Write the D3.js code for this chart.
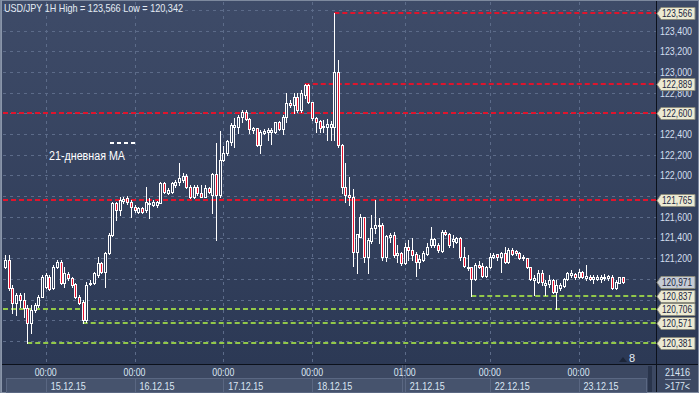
<!DOCTYPE html>
<html>
<head>
<meta charset="utf-8">
<script src="https://cdn.jsdelivr.net/npm/d3@7"></script>
<style>
body { margin: 0; background: #2f3c58; }
svg { display: block; font-family: "Liberation Sans", Arial, sans-serif; }
</style>
</head>
<body>
<svg id="chart" width="699" height="393"></svg>
<script>
// USD/JPY hourly candles, 14.12.15 14:00 .. 23.12.15
const opens = [
  121.119,121.184,120.910,120.765,120.845,120.797,120.717,120.572,120.700,120.749,
  120.829,120.926,121.016,120.910,121.119,121.167,120.958,121.048,121.007,120.952,
  120.829,120.781,120.604,120.952,120.958,121.039,121.152,121.071,121.248,121.425,
  121.732,121.667,121.757,121.780,121.747,121.699,121.651,121.683,121.667,121.725,
  121.715,121.715,121.738,121.925,121.834,121.844,121.909,121.941,121.957,121.996,
  121.892,121.796,121.892,121.828,121.796,121.877,121.812,122.012,121.812,122.150,
  122.215,122.327,122.472,122.472,122.569,122.617,122.544,122.440,122.457,122.295,
  122.414,122.424,122.424,122.424,122.515,122.450,122.569,122.704,122.682,122.756,
  122.634,122.779,122.875,122.708,122.553,122.527,122.466,122.472,122.466,122.466,
  122.998,122.295,121.892,121.812,121.796,121.264,121.409,121.596,121.216,121.370,
  121.490,121.512,121.522,121.210,121.409,121.425,121.232,121.248,121.152,121.313,
  121.280,121.242,121.167,121.184,121.242,121.329,121.329,121.329,121.274,121.457,
  121.435,121.370,121.361,121.393,121.210,121.103,121.113,120.997,121.135,121.126,
  121.032,121.119,121.216,121.239,121.210,121.254,121.167,121.280,121.274,121.254,
  121.200,121.200,121.113,120.990,120.974,121.061,120.942,120.952,120.990,120.877,
  120.910,120.932,120.997,121.039,121.048,121.022,121.071,121.013,121.022,121.003,
  121.003,121.003,121.010,121.010,121.016,120.910,120.964,121.016
];
const highs = [
  121.232,121.232,120.942,120.865,120.865,120.865,120.749,120.749,120.771,120.845,
  121.039,121.055,121.039,121.135,121.184,121.184,121.119,121.071,121.022,120.964,
  120.845,120.797,120.974,120.990,121.071,121.216,121.167,121.264,121.442,121.747,
  121.747,121.790,121.796,121.802,121.764,121.715,121.699,121.693,121.892,121.780,
  121.764,121.757,121.941,121.941,121.877,121.941,121.957,122.118,122.022,122.015,
  121.909,121.909,121.909,121.909,121.909,121.892,122.022,122.312,122.431,122.286,
  122.344,122.505,122.553,122.585,122.634,122.634,122.553,122.472,122.463,122.440,
  122.447,122.457,122.457,122.521,122.527,122.585,122.795,122.730,122.795,122.795,
  122.827,122.889,122.885,122.714,122.569,122.537,122.537,122.544,122.527,123.566,
  123.117,122.302,122.118,121.989,121.870,121.432,121.625,121.596,121.393,121.619,
  121.764,121.587,121.538,121.425,121.442,121.457,121.329,121.264,121.345,121.377,
  121.393,121.264,121.232,121.274,121.345,121.506,121.393,121.345,121.474,121.474,
  121.442,121.425,121.409,121.409,121.313,121.232,121.113,121.158,121.177,121.152,
  121.126,121.248,121.248,121.242,121.264,121.313,121.297,121.297,121.280,121.264,
  121.232,121.200,121.113,121.039,121.087,121.087,120.990,121.039,120.997,120.990,
  120.958,121.007,121.071,121.087,121.055,121.094,121.080,121.135,121.039,121.039,
  121.039,121.039,121.045,121.039,121.039,120.990,121.022,121.022
];
const lows = [
  121.103,120.894,120.668,120.652,120.732,120.636,120.381,120.478,120.684,120.732,
  120.823,120.910,120.894,120.900,121.103,120.952,120.926,120.990,120.926,120.813,
  120.758,120.571,120.587,120.942,120.952,121.022,121.061,120.926,121.242,121.416,
  121.570,121.619,121.732,121.725,121.602,121.651,121.635,121.641,121.651,121.587,
  121.706,121.699,121.732,121.828,121.822,121.834,121.892,121.909,121.941,121.877,
  121.780,121.780,121.812,121.796,121.790,121.834,121.635,121.377,121.796,122.144,
  122.199,122.295,122.279,122.408,122.521,122.537,122.408,122.414,122.286,122.215,
  122.402,122.344,122.305,122.414,122.440,122.402,122.521,122.666,122.602,122.617,
  122.617,122.747,122.698,122.537,122.424,122.424,122.424,122.344,122.344,122.344,
  122.279,121.828,121.747,121.715,121.126,121.055,121.409,121.161,121.061,121.345,
  121.442,121.345,121.184,121.177,121.361,121.216,121.167,121.135,121.145,121.184,
  121.184,121.032,121.103,121.177,121.232,121.313,121.313,121.264,121.264,121.425,
  121.313,121.313,121.351,121.184,121.113,121.087,120.837,120.990,121.103,121.022,
  121.022,121.103,121.200,121.184,121.071,121.152,121.158,121.232,121.232,121.190,
  121.184,121.103,120.990,120.845,120.958,120.942,120.845,120.926,120.861,120.706,
  120.894,120.926,120.990,121.022,120.997,121.007,121.007,120.990,120.990,120.958,
  120.990,120.974,120.990,120.990,120.900,120.900,120.958,120.961
];
const closes = [
  121.184,120.910,120.765,120.845,120.797,120.717,120.572,120.700,120.749,120.829,
  121.022,121.039,120.900,121.119,121.167,120.958,121.055,121.007,120.942,120.829,
  120.771,120.604,120.942,120.964,121.055,121.152,121.071,121.248,121.425,121.732,
  121.667,121.764,121.773,121.747,121.699,121.667,121.683,121.651,121.747,121.738,
  121.747,121.747,121.925,121.844,121.860,121.925,121.941,121.973,121.996,121.892,
  121.796,121.892,121.828,121.796,121.883,121.844,122.012,121.812,122.150,122.221,
  122.334,122.489,122.489,122.569,122.617,122.544,122.450,122.457,122.295,122.424,
  122.431,122.440,122.440,122.515,122.450,122.569,122.698,122.682,122.756,122.634,
  122.801,122.875,122.714,122.553,122.521,122.457,122.482,122.495,122.495,122.998,
  122.295,121.892,121.812,121.796,121.264,121.432,121.596,121.216,121.377,121.490,
  121.522,121.522,121.210,121.416,121.425,121.232,121.248,121.152,121.313,121.280,
  121.232,121.167,121.190,121.248,121.313,121.384,121.384,121.280,121.457,121.435,
  121.329,121.384,121.393,121.210,121.126,121.119,120.997,121.135,121.119,121.032,
  121.119,121.216,121.232,121.210,121.254,121.167,121.280,121.242,121.248,121.200,
  121.210,121.113,120.997,121.007,121.061,120.974,120.964,120.990,120.877,120.942,
  120.942,120.997,121.055,121.061,121.016,121.071,121.022,121.029,120.997,121.016,
  121.016,121.022,121.022,121.029,120.910,120.974,121.016,120.971
];

// time axis: candle index of each labelled hour
const labelIdx = [11, 35, 59, 83, 108, 131, 155];
const hourLabels = ["00:00", "00:00", "00:00", "00:00", "01:00", "00:00", "00:00"];
const dayLabels = ["15.12.15", "16.12.15", "17.12.15", "18.12.15", "21.12.15", "22.12.15", "23.12.15"];

const priceTicks = [123.4, 123.2, 123.0, 122.8, 122.4, 122.2, 122.0, 121.6, 121.4, 121.2];
const gridValues = [120.4, 120.6, 120.8, 121.0, 121.2, 121.4, 121.6, 121.8, 122.0, 122.2, 122.4, 122.6, 122.8, 123.0, 123.2, 123.4, 123.6];

// horizontal levels (start = candle index where the line begins, null = from the left edge)
const redLevels = [123.566, 122.889, 122.600, 121.765];
const redStart = [89, 81, null, null];
const greenLevels = [120.837, 120.706, 120.571, 120.381];
const greenStart = [126, null, 21, 6];
const lastPrice = 120.971;

const title = "USD/JPY 1H High = 123,566 Low = 120,342";
const maLabel = "21-дневная МА";
const volLabel = "21416";
const zoomLabel = ">177<";
const barsLabel = "8";

const W = 699, H = 393;
const plotL = 3, plotR = 656, plotT = 2, plotB = 364;

const svg = d3.select("#chart");

const defs = svg.append("defs");
const grad = defs.append("linearGradient")
    .attr("id", "bg")
    .attr("gradientUnits", "userSpaceOnUse")
    .attr("x1", 0).attr("y1", 0).attr("x2", 0).attr("y2", plotB);
grad.append("stop").attr("offset", 0).attr("stop-color", "#3e4b68");
grad.append("stop").attr("offset", 1).attr("stop-color", "#2c3955");

const x = d3.scaleLinear().domain([0, opens.length - 1]).range([5, 623]);
const y = d3.scaleLinear().domain([120.178, 123.677]).range([plotB, plotT]);
const fmt = v => d3.format(".3f")(v).replace(".", ",");

// the source uses a narrow font, so squeeze text to the widths seen there
function squeeze(sel, len) {
    sel.attr("textLength", len).attr("lengthAdjust", "spacingAndGlyphs");
}

// backgrounds
svg.append("rect").attr("width", W).attr("height", plotB).attr("fill", "url(#bg)");
svg.append("rect").attr("x", 0).attr("y", plotB).attr("width", W).attr("height", H - plotB).attr("fill", "#3c4862");

// grid
svg.append("g").selectAll("line").data(gridValues).join("line")
    .attr("x1", plotL).attr("x2", plotR)
    .attr("y1", d => Math.round(y(d)) + 0.5).attr("y2", d => Math.round(y(d)) + 0.5)
    .attr("stroke", "#5c6b89").attr("stroke-dasharray", "3,4");
svg.append("g").selectAll("line").data(labelIdx).join("line")
    .attr("x1", d => Math.round(x(d)) + 0.5).attr("x2", d => Math.round(x(d)) + 0.5)
    .attr("y1", plotT).attr("y2", plotB)
    .attr("stroke", "#5c6b89").attr("stroke-dasharray", "3,4");

// level lines
function levels(vals, starts, color) {
    svg.append("g").selectAll("line").data(vals).join("line")
        .attr("x1", (d, i) => starts[i] == null ? plotL : x(starts[i]))
        .attr("x2", plotR)
        .attr("y1", d => Math.round(y(d))).attr("y2", d => Math.round(y(d)))
        .attr("stroke", color).attr("stroke-width", 2).attr("stroke-dasharray", "5,3");
}
levels(redLevels, redStart, "#e0142c");
levels(greenLevels, greenStart, "#92c84a");

// candles
const idx = d3.range(opens.length);
const cg = svg.append("g");
cg.selectAll("line").data(idx).join("line")
    .attr("x1", i => Math.round(x(i)) + 0.5).attr("x2", i => Math.round(x(i)) + 0.5)
    .attr("y1", i => Math.round(y(highs[i]))).attr("y2", i => Math.round(y(lows[i])) + 1)
    .attr("stroke", "#ffffff");
cg.selectAll("rect").data(idx).join("rect")
    .attr("x", i => Math.round(x(i)) - 0.5)
    .attr("width", 2)
    .attr("y", i => Math.round(y(Math.max(opens[i], closes[i]))) + 0.5)
    .attr("height", i => Math.max(1, Math.round(y(Math.min(opens[i], closes[i]))) - Math.round(y(Math.max(opens[i], closes[i])))))
    .attr("fill", i => closes[i] >= opens[i] ? "url(#bg)" : "#e8112d")
    .attr("stroke", "#ffffff");

// MA legend
svg.append("line").attr("x1", 110).attr("x2", 135).attr("y1", 143).attr("y2", 143)
    .attr("stroke", "#ffffff").attr("stroke-width", 2).attr("stroke-dasharray", "4,3");
svg.append("text").attr("x", 49).attr("y", 160).attr("fill", "#ffffff")
    .attr("font-size", 12).text(maLabel).call(squeeze, 76);

// title
svg.append("text").attr("x", 4).attr("y", 12).attr("fill", "#e4ebf4")
    .attr("font-size", 11).text(title).call(squeeze, 179);

// frame lines
svg.append("line").attr("x1", 0).attr("x2", W).attr("y1", plotB + 0.5).attr("y2", plotB + 0.5).attr("stroke", "#0c111b");
svg.append("line").attr("x1", plotR + 0.5).attr("x2", plotR + 0.5).attr("y1", 0).attr("y2", H).attr("stroke", "#0c111b");
svg.append("rect").attr("x", 0.5).attr("y", 0.5).attr("width", W - 1).attr("height", H - 1)
    .attr("fill", "none").attr("stroke", "#7d899e");
svg.append("line").attr("x1", 1.5).attr("x2", 1.5).attr("y1", 0).attr("y2", H).attr("stroke", "#8a96aa");

// right price axis
svg.append("g").selectAll("text").data(priceTicks).join("text")
    .attr("x", 660).attr("y", d => y(d)).attr("dy", "0.35em")
    .attr("fill", "#d3dfee").attr("font-size", 11)
    .text(fmt).call(squeeze, 32);

const markers = redLevels.concat(greenLevels).map(v => ({ v, last: false }));
markers.push({ v: lastPrice, last: true });
const mg = svg.append("g").selectAll("g").data(markers).join("g")
    .attr("transform", d => `translate(0,${Math.round(y(d.v)) + 0.5})`);
mg.append("path")
    .attr("d", "M657,0 L661,-6 L695,-6 L695,6 L661,6 Z")
    .attr("fill", d => d.last ? "#c5cbd5" : "#ecead3")
    .attr("stroke", "#8c8c7e");
mg.append("text").attr("x", 662).attr("dy", "0.35em")
    .attr("fill", "#1a2640").attr("font-size", 10.5)
    .text(d => fmt(d.v)).call(squeeze, 30);

// time axis cells
const cellEdges = [6].concat(labelIdx.map(i => Math.round(x(i)))).concat([646]);
svg.append("g").selectAll("rect").data(d3.range(cellEdges.length - 1)).join("rect")
    .attr("x", i => cellEdges[i] + 0.5).attr("y", 378.5)
    .attr("width", i => cellEdges[i + 1] - cellEdges[i]).attr("height", 14)
    .attr("fill", "#46536d").attr("stroke", "#5a6782");
svg.append("rect").attr("x", 648).attr("y", 366).attr("width", 4).attr("height", 26).attr("fill", "#29344b");
const wk = Math.round(x(labelIdx[4]));
[wk - 3, wk].forEach(px => svg.append("line")
    .attr("x1", px + 0.5).attr("x2", px + 0.5).attr("y1", plotB + 1).attr("y2", H)
    .attr("stroke", "#5a6782"));

const tg = svg.append("g").attr("fill", "#dbe6f3").attr("font-size", 11);
tg.selectAll(".hr").data(labelIdx).join("text").attr("class", "hr")
    .attr("x", d => x(d) - 11).attr("y", 376)
    .text((d, i) => hourLabels[i]).call(squeeze, 22);
tg.selectAll(".dy").data(labelIdx).join("text").attr("class", "dy")
    .attr("x", d => x(d) + 5).attr("y", 390)
    .text((d, i) => dayLabels[i]).call(squeeze, 35);

// bottom-right counters
svg.append("text").attr("x", 665).attr("y", 376)
    .attr("fill", "#dbe6f3").attr("font-size", 11).text(volLabel).call(squeeze, 25);
svg.append("line").attr("x1", 665).attr("x2", 691).attr("y1", 379.5).attr("y2", 379.5).attr("stroke", "#8494ad");
svg.append("text").attr("x", 665).attr("y", 390)
    .attr("fill", "#dbe6f3").attr("font-size", 11).text(zoomLabel).call(squeeze, 25);

// bars-ahead marker
svg.append("path").attr("d", "M619,362 L623,357 L627,362 Z").attr("fill", "#1c2538");
svg.append("text").attr("x", 629).attr("y", 362).attr("fill", "#e6edf5")
    .attr("font-size", 11).text(barsLabel);
</script>
</body>
</html>
